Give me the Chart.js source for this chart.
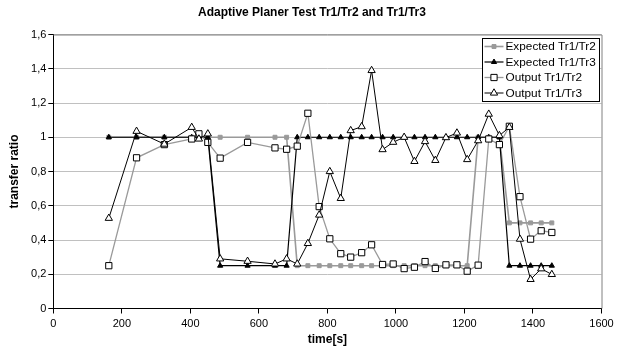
<!DOCTYPE html>
<html>
<head>
<meta charset="utf-8">
<script src="https://cdn.jsdelivr.net/npm/chart.js@4.4.0/dist/chart.umd.min.js"></script>
<style>
  html, body { margin: 0; padding: 0; background: #fff; }
</style>
</head>
<body>
<canvas id="myChart" width="620" height="351"></canvas>
<script>
// time of each sample, seconds
const times = [162, 243, 324, 404, 425, 451, 487, 567, 647, 681, 712, 743, 776, 807, 839, 868, 900, 929,
  961, 992, 1024, 1054, 1085, 1115, 1146, 1178, 1208, 1240, 1271, 1302, 1331, 1362, 1393, 1424, 1455];

const expectedTr1Tr2 = [1, 1, 1, 1, 1, 1, 1, 1, 1, 1, 0.25, 0.25, 0.25, 0.25, 0.25, 0.25, 0.25, 0.25,
  0.25, 0.25, 0.25, 0.25, 0.25, 0.25, 0.25, 0.25, 0.25, 1, 1, 1, 0.5, 0.5, 0.5, 0.5, 0.5];

const expectedTr1Tr3 = [1, 1, 1, 1, 1, 1, 0.25, 0.25, 0.25, 0.25, 1, 1, 1, 1, 1, 1, 1, 1,
  1, 1, 1, 1, 1, 1, 1, 1, 1, 1, 1, 1, 0.25, 0.25, 0.25, 0.25, 0.25];

const outputTr1Tr2 = [0.25, 0.88, 0.957, 0.99, 1.02, 0.97, 0.878, 0.97, 0.938, 0.93, 0.948, 1.14, 0.595, 0.407,
  0.32, 0.30, 0.326, 0.372, 0.257, 0.26, 0.233, 0.241, 0.274, 0.234, 0.255, 0.255, 0.218, 0.253,
  0.99, 0.957, 1.064, 0.653, 0.405, 0.454, 0.444];

const outputTr1Tr3 = [0.527, 1.035, 0.96, 1.058, 0.99, 1.02, 0.29, 0.276, 0.26, 0.29, 0.26, 0.38, 0.546, 0.80,
  0.643, 1.039, 1.062, 1.39, 0.928, 0.971, 1.0, 0.859, 0.975, 0.865, 0.998, 1.025, 0.87, 0.98,
  1.135, 1.01, 1.058, 0.405, 0.17, 0.232, 0.199];

const xTickLabels = ['0', '200', '400', '600', '800', '1000', '1200', '1400', '1600'];
const yTickLabels = ['0', '0,2', '0,4', '0,6', '0,8', '1', '1,2', '1,4', '1,6'];

function toPoints(values) {
  return values.map((v, i) => ({ x: times[i], y: v }));
}

Chart.defaults.font.family = "'Liberation Sans', Arial, sans-serif";
Chart.defaults.font.size = 11;
Chart.defaults.color = '#000';

// top + right frame of the plot area
const plotFrame = {
  id: 'plotFrame',
  beforeDatasetsDraw(chart) {
    const { ctx, chartArea: a } = chart;
    ctx.save();
    ctx.strokeStyle = '#808080';
    ctx.lineWidth = 1;
    ctx.beginPath();
    ctx.moveTo(a.left, a.top + 0.5);
    ctx.lineTo(a.right + 0.5, a.top + 0.5);
    ctx.lineTo(a.right + 0.5, a.bottom);
    ctx.stroke();
    ctx.restore();
  }
};

function marker(ctx, style, r, x, y, fill, stroke) {
  ctx.beginPath();
  if (style === 'rect') {
    const s = r * Math.SQRT1_2;
    ctx.rect(x - s, y - s, 2 * s, 2 * s);
  } else {
    const h = r * 1.5;
    const w = r * Math.sqrt(3) / 2;
    ctx.moveTo(x, y - r);
    ctx.lineTo(x + w, y - r + h);
    ctx.lineTo(x - w, y - r + h);
    ctx.closePath();
  }
  ctx.fillStyle = fill;
  ctx.fill();
  ctx.strokeStyle = stroke;
  ctx.lineWidth = 1;
  ctx.stroke();
}

// excel style legend: line with marker in the middle
const boxLegend = {
  id: 'boxLegend',
  afterDraw(chart) {
    const { ctx, chartArea: a } = chart;
    const x0 = Math.round(a.right - 120) + 0.5, y0 = Math.round(a.top + 3) + 0.5;
    const w = 117, h = 63;
    ctx.save();
    ctx.fillStyle = '#fff';
    ctx.fillRect(x0, y0, w, h);
    ctx.strokeStyle = '#000';
    ctx.lineWidth = 1;
    ctx.strokeRect(x0, y0, w, h);
    ctx.font = "11.8px 'Liberation Sans', Arial, sans-serif";
    ctx.textBaseline = 'middle';
    chart.data.datasets.forEach((ds, i) => {
      const y = y0 + 8 + i * 15.5;
      ctx.strokeStyle = ds.borderColor;
      ctx.lineWidth = ds.borderWidth;
      ctx.beginPath();
      ctx.moveTo(x0 + 2, y);
      ctx.lineTo(x0 + 21, y);
      ctx.stroke();
      marker(ctx, ds.pointStyle, ds.pointRadius, x0 + 11.5, y, ds.pointBackgroundColor, ds.pointBorderColor);
      ctx.fillStyle = '#000';
      ctx.fillText(ds.label, x0 + 23, y + 0.5);
    });
    ctx.restore();
  }
};

const data = {
  datasets: [{
    label: 'Expected Tr1/Tr2',
    data: toPoints(expectedTr1Tr2),
    borderColor: '#9a9a9a',
    borderWidth: 1.6,
    pointStyle: 'rect',
    pointRadius: 2.8,
    pointBackgroundColor: '#9a9a9a',
    pointBorderColor: '#9a9a9a',
    pointBorderWidth: 1,
    order: 4
  }, {
    label: 'Expected Tr1/Tr3',
    data: toPoints(expectedTr1Tr3),
    borderColor: '#000',
    borderWidth: 1.2,
    pointStyle: 'triangle',
    pointRadius: 3,
    pointBackgroundColor: '#000',
    pointBorderColor: '#000',
    pointBorderWidth: 1,
    order: 3
  }, {
    label: 'Output Tr1/Tr2',
    data: toPoints(outputTr1Tr2),
    borderColor: '#9a9a9a',
    borderWidth: 1.3,
    pointStyle: 'rect',
    pointRadius: 4.4,
    pointBackgroundColor: '#fff',
    pointBorderColor: '#000',
    pointBorderWidth: 1,
    order: 2
  }, {
    label: 'Output Tr1/Tr3',
    data: toPoints(outputTr1Tr3),
    borderColor: '#000',
    borderWidth: 1,
    pointStyle: 'triangle',
    pointRadius: 4.2,
    pointBackgroundColor: '#fff',
    pointBorderColor: '#000',
    pointBorderWidth: 1,
    order: 1
  }]
};

const config = {
  type: 'line',
  data: data,
  options: {
    responsive: false,
    animation: false,
    layout: { padding: { left: 4, right: 0, top: 0, bottom: 0 } },
    plugins: {
      legend: { display: false },
      tooltip: { enabled: false },
      title: {
        display: true,
        text: 'Adaptive Planer Test Tr1/Tr2 and Tr1/Tr3',
        font: { size: 12, weight: 'bold' },
        color: '#000',
        padding: { top: 5.5, bottom: 14.6 }
      }
    },
    scales: {
      x: {
        type: 'linear',
        min: 0,
        max: 1600,
        afterFit(scale) { scale.height = 42.5; scale.paddingRight = 18.5; },
        ticks: {
          stepSize: 200,
          maxRotation: 0,
          autoSkip: false,
          padding: 4,
          callback: (v, i) => xTickLabels[i]
        },
        grid: { drawOnChartArea: false, drawTicks: true, tickLength: 5, tickColor: '#000' },
        border: { display: true, color: '#000', width: 1 },
        title: {
          display: true,
          text: 'time[s]',
          font: { size: 12, weight: 'bold' },
          padding: { top: 0, bottom: 3.8 }
        }
      },
      y: {
        min: 0,
        max: 1.6,
        afterFit(scale) { scale.width = 49.3; },
        ticks: {
          stepSize: 0.2,
          padding: 2,
          callback: (v, i) => yTickLabels[i]
        },
        grid: { color: '#c0c0c0', lineWidth: 1, drawTicks: true, tickLength: 5, tickColor: '#000' },
        border: { display: true, color: '#000', width: 1 },
        title: {
          display: true,
          text: 'transfer ratio',
          font: { size: 12, weight: 'bold' },
          padding: { top: 3, bottom: 0 }
        }
      }
    }
  },
  plugins: [plotFrame, boxLegend]
};

const myChart = new Chart(document.getElementById('myChart'), config);
</script>
</body>
</html>
